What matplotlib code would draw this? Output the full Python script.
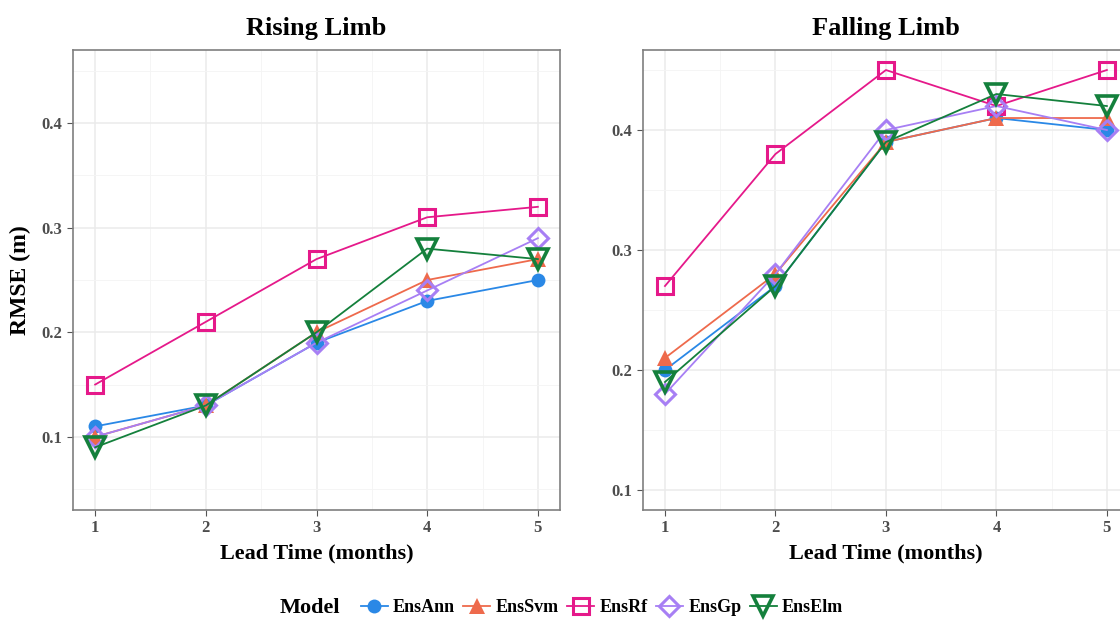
import matplotlib
matplotlib.use('Agg')
import matplotlib.pyplot as plt
from matplotlib.lines import Line2D

plt.rcParams['font.family'] = ['Liberation Serif', 'DejaVu Serif']
plt.rcParams['font.weight'] = 'bold'

lead = [1, 2, 3, 4, 5]
models = ['EnsAnn', 'EnsSvm', 'EnsRf', 'EnsGp', 'EnsElm']

# Rising limb RMSE
rise_ann = [0.11, 0.13, 0.19, 0.23, 0.25]
rise_svm = [0.10, 0.13, 0.20, 0.25, 0.27]
rise_rf = [0.15, 0.21, 0.27, 0.31, 0.32]
rise_gp = [0.10, 0.13, 0.19, 0.24, 0.29]
rise_elm = [0.09, 0.13, 0.20, 0.28, 0.27]

# Falling limb RMSE
fall_ann = [0.20, 0.27, 0.39, 0.41, 0.40]
fall_svm = [0.21, 0.28, 0.39, 0.41, 0.41]
fall_rf = [0.27, 0.38, 0.45, 0.42, 0.45]
fall_gp = [0.18, 0.28, 0.40, 0.42, 0.40]
fall_elm = [0.19, 0.27, 0.39, 0.43, 0.42]

colors = ['#2A88E6', '#EE6A4C', '#E5198A', '#A77FF4', '#14803C']
styles = [dict(marker='o', ms=10, mfc=colors[0], mew=0),
          dict(marker='^', ms=11, mfc=colors[1], mew=0),
          dict(marker='s', ms=11, mfc='none', mew=2.2),
          dict(marker='D', ms=10.5, mfc='none', mew=2.2),
          dict(marker='v', ms=15, mfc='none', mew=2.6)]

fig = plt.figure(figsize=(11.2, 6.21), dpi=100)
ax1 = fig.add_axes([0.0652, 0.1787, 0.4348, 0.7408])
ax2 = fig.add_axes([0.574, 0.1787, 0.434, 0.7408])


def panel(ax, series, title, ylim, minor, ylabel):
    for i, y in enumerate(series):
        ax.plot(lead, y, color=colors[i], lw=1.3, mec=colors[i], **styles[i])
    ax.set_xticks(lead)
    ax.set_xticks([1.5, 2.5, 3.5, 4.5], minor=True)
    ax.set_yticks([0.1, 0.2, 0.3, 0.4])
    ax.set_yticks(minor, minor=True)
    ax.set_xlim(0.8, 5.2)
    ax.set_ylim(*ylim)
    ax.grid(which='major', color='#EBEBEB', lw=1.1)
    ax.grid(which='minor', color='#F4F4F4', lw=0.6)
    ax.set_axisbelow(True)
    for s in ax.spines.values():
        s.set_color('#7F7F7F')
        s.set_linewidth(1.2)
    ax.tick_params(which='major', length=4, color='#555555', labelsize=12, labelcolor='#4D4D4D')
    ax.tick_params(which='minor', length=0)
    ax.set_title(title, fontsize=19, fontweight='bold', pad=11)
    ax.set_xlabel('Lead Time (months)', fontsize=16, fontweight='bold', labelpad=5)
    if ylabel:
        ax.set_ylabel(ylabel, fontsize=17, fontweight='bold', labelpad=8)


panel(ax1, [rise_ann, rise_svm, rise_rf, rise_gp, rise_elm], 'Rising Limb', (0.03, 0.47),
      [0.05, 0.15, 0.25, 0.35, 0.45], 'RMSE (m)')
panel(ax2, [fall_ann, fall_svm, fall_rf, fall_gp, fall_elm], 'Falling Limb', (0.0833, 0.4667),
      [0.15, 0.25, 0.35, 0.45], None)

handles = [Line2D([0], [0], color=colors[i], lw=1.3, mec=colors[i], **styles[i]) for i in range(5)]
fig.legend(handles, models, loc='center', bbox_to_anchor=(0.5375, 0.021), ncol=5, frameon=False,
           fontsize=13, handlelength=1.5, handletextpad=0.3, columnspacing=0.45,
           borderpad=0.1)
fig.text(0.25, 0.021, 'Model', fontsize=16, fontweight='bold', va='center', ha='left')

fig.savefig('out.png', dpi=100)
